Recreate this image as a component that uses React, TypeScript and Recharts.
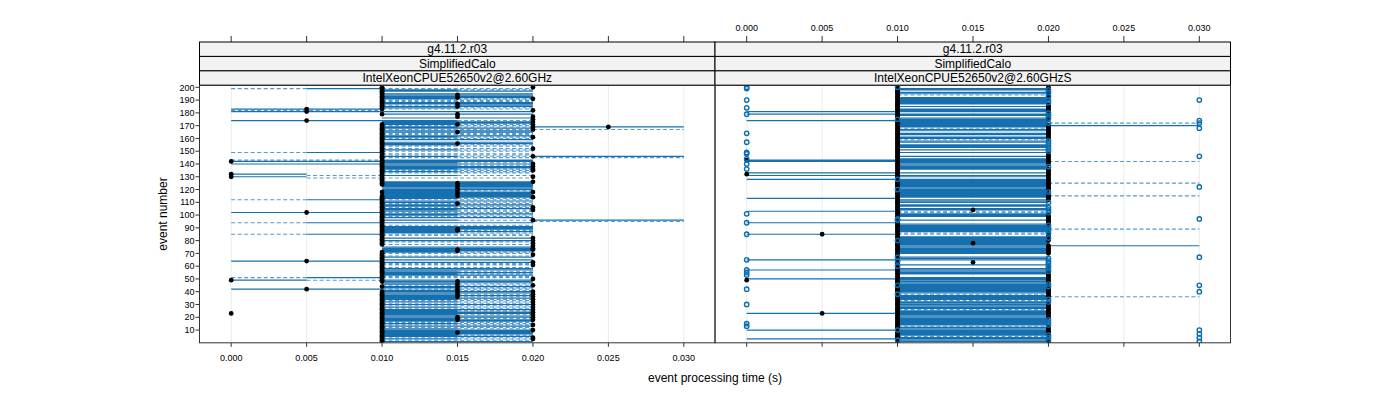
import React from "react";
import { ComposedChart, Line, Scatter, XAxis, YAxis, CartesianGrid } from "recharts";

const FONT = "'Liberation Sans', Arial, Helvetica, sans-serif";

const xTicks = [0, 0.005, 0.01, 0.015, 0.02, 0.025, 0.03];
const yTicks = [10, 20, 30, 40, 50, 60, 70, 80, 90, 100, 110, 120, 130, 140, 150, 160, 170, 180, 190, 200];
const xDomain = [-0.0021, 0.0321];
const yDomain = [0, 235.5];

const stripRows = ["g4.11.2.r03", "SimplifiedCalo"];
const hosts = ["IntelXeonCPUE52650v2@2.60GHz", "IntelXeonCPUE52650v2@2.60GHzS"];

// lines between 0.010 and 0.020, one char per event, event 200 first
// S solid, D dashed, L solid then dashed, R dashed then solid, . none
const leftBandRows = [
  ".DLS.SSSSL", "DDSSRSLD.S", ".S..S.LSSL", "DLSDSSDDSL", "DS.SSLD.DL",
  "D.DDLD.SSL", "SLSSLDLD.L", ".D..SSSSSS", "SLSSSSSLDS", "LDSLDSLLDS",
  "LDS.L.S.DS", "SSLSLDD.S.", "SD.D.SSSSL", "D.DS.S.SDD", ".DSSLSLSDD",
  ".SSSLDSLDL", "SSLSLSLDLD", "SDLDSLSSLS", "SLSSDLDSDL", "SSSSLSDLDS",
];
const rightBandRows = [
  ".SS.SSD.SS", "SSSS.S.SSS", ".SS.SSSSSS", "SSDSS.SS.S", "SDSS.SSS.S",
  ".S..S.SSSS", "SSSSS..S.S", "S.SSSSSSSS", "SSSSSSS.SS", "S.SS.SSDDS",
  "SS..S..SSS", "SSSSDD.SSS", "SSSSSSSSSS", "S..SSS...S", "..SSSSS..S",
  "SSSSSSSSSS", "SSDSSSSDSS", "SSSSDSSSSS", "SSSSSSSDSS", "SSSSSDSSSS",
];

// other lines: [event, from, to, dashed]
const leftExtraSegs = [
  [199, 0, 0.005, 1], [199, 0.005, 0.01, 0],
  [183, 0, 0.01, 0], [182, 0, 0.01, 1], [181, 0, 0.01, 0],
  [174, 0, 0.01, 0],
  [149, 0, 0.005, 1], [149, 0.005, 0.01, 0],
  [143, 0, 0.01, 1], [142, 0, 0.01, 0], [140, 0, 0.01, 0],
  [132, 0, 0.005, 0], [131, 0.005, 0.01, 1], [130, 0, 0.005, 0], [129, 0.005, 0.01, 1],
  [112, 0, 0.005, 1], [112, 0.005, 0.01, 0],
  [102, 0, 0.01, 0],
  [94, 0, 0.005, 1], [94, 0.005, 0.01, 0],
  [85, 0, 0.005, 1], [85, 0.005, 0.01, 0],
  [64, 0, 0.01, 0],
  [51, 0, 0.005, 1], [51, 0.005, 0.01, 0],
  [49, 0, 0.005, 0], [49, 0.005, 0.01, 1],
  [42, 0, 0.01, 0],
  [169, 0.02, 0.03, 0], [167, 0.02, 0.03, 1],
  [146, 0.02, 0.03, 0], [145, 0.02, 0.03, 1],
  [96, 0.02, 0.03, 0], [95, 0.02, 0.03, 1],
];
const rightExtraSegs = [
  [181, 0, 0.01, 0], [179, 0, 0.01, 0], [174, 0, 0.01, 0], [143, 0, 0.01, 0],
  [142, 0, 0.01, 0], [133, 0, 0.01, 0], [131, 0, 0.01, 0], [128, 0, 0.01, 0],
  [113, 0, 0.01, 0], [103, 0, 0.01, 0], [94, 0, 0.01, 0], [85, 0, 0.01, 0],
  [65, 0, 0.01, 0], [57, 0, 0.01, 0], [50, 0, 0.01, 0], [23, 0, 0.01, 0],
  [10, 0, 0.01, 0], [3, 0, 0.01, 0],
  [172, 0.02, 0.03, 1], [170, 0.02, 0.03, 0], [142, 0.02, 0.03, 1], [125, 0.02, 0.03, 1],
  [115, 0.02, 0.03, 1], [89, 0.02, 0.03, 1], [76, 0.02, 0.03, 0], [36, 0.02, 0.03, 1],
];

// black filled points, left panel
const leftBlack000 = [142, 132, 130, 49, 23];
const leftBlack005 = [183, 181, 174, 102, 64, 42];
const leftBlack010Ranges = [[183, 200], [179, 179], [124, 171], [118, 118], [77, 115], [48, 71], [44, 44], [1, 40]];
const leftBlack015 = [194, 192, 187, 185, 179, 177, 171, 165, 156, 125, 123, 121, 119, 117, 115, 109, 89, 88, 73, 72, 48, 46, 44, 42, 40, 38, 36, 20, 18, 8];
const leftBlack020 = [200, 191, 182, 177, 175, 173, 171, 169, 167, 161, 152, 146, 140, 138, 136, 135, 130, 126, 118, 114, 106, 104, 96, 82, 80, 78, 76, 74, 73, 69, 63, 61, 50, 45, 40, 38, 36, 34, 32, 30, 28, 26, 24, 22, 20, 18, 14, 10, 4, 3];
const leftBlack025 = [169];

// black filled points, right panel
const rightBlack000 = [143, 132, 49];
const rightBlack005 = [85, 23];
const rightBlack010Ranges = [[1, 200]];
const rightBlack015 = [104, 78, 63];
const rightBlack020Ranges = [[192, 200], [175, 186], [160, 170], [140, 148], [120, 136], [112, 116], [80, 100], [70, 76], [48, 60], [36, 44], [20, 30], [1, 12]];

// open blue points, right panel
const rightBlue000 = [200, 199, 190, 184, 179, 164, 157, 149, 148, 144, 140, 136, 101, 94, 85, 65, 57, 55, 53, 42, 30, 15, 13];
const rightBlue010 = [200, 175, 128, 120, 97, 96, 80, 67, 64, 60, 45, 38, 10, 2];
const rightBlue020 = [198, 196, 193, 190, 188, 180, 178, 176, 172, 158, 156, 154, 152, 150, 138, 118, 110, 106, 104, 102, 92, 90, 88, 86, 82, 66, 64, 62, 60, 58, 56, 46, 44, 34, 32, 18, 16, 14, 6, 4, 2];
const rightBlue030 = [190, 174, 172, 168, 146, 122, 97, 67, 45, 40, 10, 7, 4, 1];

type Seg = number[];

function bandSegs(rows: string[]): Seg[] {
  const codes = rows.join("");
  const segs: Seg[] = [];
  for (let i = 0; i < codes.length; i++) {
    const ev = 200 - i;
    const c = codes[i];
    if (c === "S") segs.push([ev, 0.01, 0.02, 0]);
    if (c === "D") segs.push([ev, 0.01, 0.02, 1]);
    if (c === "L") segs.push([ev, 0.01, 0.015, 0], [ev, 0.015, 0.02, 1]);
    if (c === "R") segs.push([ev, 0.01, 0.015, 1], [ev, 0.015, 0.02, 0]);
  }
  return segs;
}

function lineData(segs: Seg[], dashed: number) {
  const out: { x: number; y: number | null }[] = [];
  segs.filter((s) => s[3] === dashed).forEach(([ev, a, b]) => {
    out.push({ x: a, y: ev }, { x: b, y: ev }, { x: b, y: null });
  });
  return out;
}

const pts = (x: number, evs: number[]) => evs.map((y) => ({ x, y }));
const rangePts = (x: number, ranges: number[][]) =>
  ranges.flatMap(([a, b]) => {
    const r: { x: number; y: number }[] = [];
    for (let e = a; e <= b; e++) r.push({ x, y: e });
    return r;
  });

const leftSegs = [...bandSegs(leftBandRows), ...leftExtraSegs];
const rightSegs = [...bandSegs(rightBandRows), ...rightExtraSegs];

const leftBlack = [
  ...pts(0, leftBlack000), ...pts(0.005, leftBlack005), ...rangePts(0.01, leftBlack010Ranges),
  ...pts(0.015, leftBlack015), ...pts(0.02, leftBlack020), ...pts(0.025, leftBlack025),
];
const rightBlack = [
  ...pts(0, rightBlack000), ...pts(0.005, rightBlack005), ...rangePts(0.01, rightBlack010Ranges),
  ...pts(0.015, rightBlack015), ...rangePts(0.02, rightBlack020Ranges),
];
const rightBlue = [
  ...pts(0, rightBlue000), ...pts(0.01, rightBlue010), ...pts(0.02, rightBlue020), ...pts(0.03, rightBlue030),
];

const BlackDot = (p: any) => <circle cx={p.cx} cy={p.cy} r={2.4} fill="#000" />;
const OpenDot = (p: any) => <circle cx={p.cx} cy={p.cy} r={2.2} fill="none" stroke="#0a6fb3" strokeWidth={1.4} />;

const tickStyle = { fontSize: 9, fill: "#000", fontFamily: FONT };

function Panel(props: {
  left: number; width: number; yAxis: boolean; topLabels: boolean; bottomLabels: boolean;
  segs: Seg[]; black: any[]; blue: any[];
}) {
  const { left, width, yAxis, topLabels, bottomLabels, segs, black, blue } = props;
  return (
    <div style={{ position: "absolute", left, top: 0 }}>
      <ComposedChart width={width} height={400} margin={{ top: 12, right: 0.5, bottom: 27.2, left: 0 }}>
        <CartesianGrid horizontal={false} stroke="#ebebeb" />
        <XAxis xAxisId="top" orientation="top" dataKey="x" type="number" domain={xDomain} ticks={xTicks}
          allowDataOverflow interval={0} height={30} axisLine={false} tickSize={6} tickMargin={5} stroke="#333"
          tick={tickStyle} tickFormatter={(v: number) => (topLabels ? v.toFixed(3) : "")} />
        <XAxis dataKey="x" type="number" domain={xDomain} ticks={xTicks} allowDataOverflow interval={0}
          height={30} axisLine={false} tickSize={4} tickMargin={7.7} stroke="#333" tick={tickStyle}
          tickFormatter={(v: number) => (bottomLabels ? v.toFixed(3) : "")} />
        <YAxis dataKey="y" type="number" domain={yDomain} ticks={yTicks} allowDataOverflow interval={0}
          width={199.5} hide={!yAxis} axisLine={false} tickSize={4} tickMargin={1} stroke="#333" tick={tickStyle} />
        <Line data={lineData(segs, 1)} dataKey="y" stroke="#2a80c0" strokeOpacity={0.8} strokeWidth={1.1}
          strokeDasharray="4 2.5" dot={false} activeDot={false} connectNulls={false} isAnimationActive={false} />
        <Line data={lineData(segs, 0)} dataKey="y" stroke="#1670b0" strokeOpacity={1} strokeWidth={1.2}
          dot={false} activeDot={false} connectNulls={false} isAnimationActive={false} />
        <Scatter data={black} dataKey="y" shape={BlackDot} isAnimationActive={false} />
        {blue.length > 0 && <Scatter data={blue} dataKey="y" shape={OpenDot} isAnimationActive={false} />}
      </ComposedChart>
    </div>
  );
}

const panelBoxes = [
  { x: 199.5, w: 515.5 },
  { x: 715, w: 515.5 },
];
const stripTop = 42;
const stripH = 14.43;

export default function App() {
  return (
    <div style={{ position: "absolute", left: 0, top: 0, width: 1400, height: 400, background: "#fff", fontFamily: FONT }}>
      <Panel left={0} width={716} yAxis topLabels={false} bottomLabels segs={leftSegs} black={leftBlack} blue={[]} />
      <Panel left={714.5} width={516.5} yAxis={false} topLabels bottomLabels={false} segs={rightSegs} black={rightBlack} blue={rightBlue} />
      <svg width={1400} height={400} style={{ position: "absolute", left: 0, top: 0, pointerEvents: "none" }}>
        {panelBoxes.map((b, pi) => (
          <g key={pi}>
            {[...stripRows, hosts[pi]].map((t, i) => (
              <g key={i}>
                <rect x={b.x} y={stripTop + i * stripH} width={b.w} height={stripH} fill="#f2f2f2" stroke="#000" strokeWidth={1} />
                <text x={b.x + b.w / 2} y={stripTop + i * stripH + stripH / 2 + 4.2} textAnchor="middle" fontSize={12} fontFamily={FONT} fill="#000">
                  {t}
                </text>
              </g>
            ))}
            <rect x={b.x} y={stripTop + 3 * stripH} width={b.w} height={342.8 - (stripTop + 3 * stripH)} fill="none" stroke="#333" strokeWidth={1} />
          </g>
        ))}
        <text x={715} y={381.5} textAnchor="middle" fontSize={12} fontFamily={FONT} fill="#000">event processing time (s)</text>
        <text transform="translate(167,214) rotate(-90)" textAnchor="middle" fontSize={12} fontFamily={FONT} fill="#000">event number</text>
      </svg>
    </div>
  );
}
